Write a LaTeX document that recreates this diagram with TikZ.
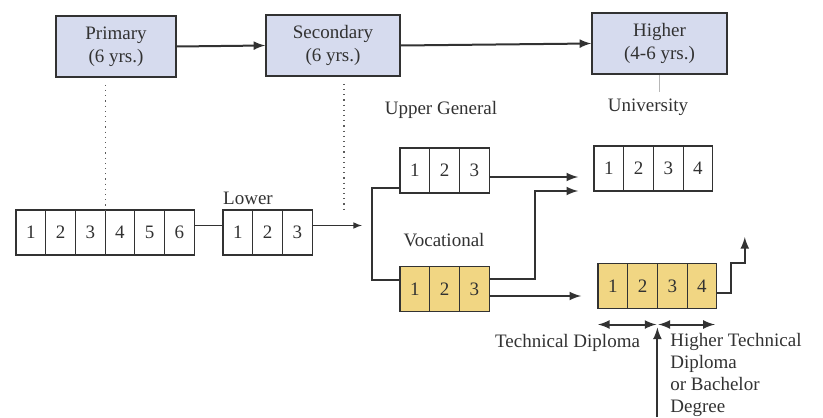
\documentclass[tikz,border=0pt]{standalone}
\usepackage{fontspec}
\setmainfont{Liberation Serif}
\usepackage{tikz}
\usetikzlibrary{positioning}
\usetikzlibrary{arrows}

\definecolor{stageBlue}{RGB}{214,219,238}
\definecolor{vocYellow}{RGB}{241,214,131}
\definecolor{inkGray}{RGB}{50,50,50}

\begin{document}
\begin{tikzpicture}[
  x=0.5pt, y=-0.5pt,
  font=\fontsize{9.5}{11.5}\selectfont,
  every node/.style={text=inkGray},
  stageBox/.style={draw=inkGray, line width=0.8pt, fill=stageBlue, rectangle,
    align=center, minimum width=#1, minimum height=30.5pt, inner sep=2pt},
  stageBox/.default=67pt,
  cellBox/.style={draw=inkGray, line width=0.6pt, rectangle, minimum width=14.85pt,
    minimum height=22.5pt, inner sep=0pt, outer sep=0pt},
  yearCell/.style={cellBox, fill=vocYellow},
  linkArrow/.style={draw=inkGray, line width=1pt, -latex},
  linkLine/.style={draw=inkGray, line width=1pt},
  spanArrow/.style={draw=inkGray, line width=1pt, latex-latex},
  thinLine/.style={draw=inkGray, line width=0.5pt},
  thinArrow/.style={draw=inkGray, line width=0.5pt, -latex},
  guideLine/.style={draw=inkGray!80, dotted, line width=0.6pt},
  faintLine/.style={draw=inkGray!35, line width=0.3pt},
]

\useasboundingbox (0,0) rectangle (823,417);

% --- stages ---
\node[stageBox=60pt] (primBox) at (116,46.5) {Primary\\(6 yrs.)};
\node[stageBox] (secBox) at (333,45.5) {Secondary\\(6 yrs.)};
\node[stageBox=67.5pt] (highBox) at (659.5,43.5) {Higher\\(4-6 yrs.)};

\draw[linkArrow] (primBox.east) -- (secBox.west);
\draw[linkArrow] (secBox.east) -- (highBox.west);

% --- year rows ---
\node[cellBox] (prim1) at (30.85,232.5) {1};
\foreach \i [count=\j] in {2,...,6}
  \node[cellBox, right=0pt of prim\j] (prim\i) {\i};

\node[cellBox] (low1) at (237.85,232.5) {1};
\foreach \i [count=\j] in {2,3}
  \node[cellBox, right=0pt of low\j] (low\i) {\i};

\node[cellBox] (upp1) at (414.85,170.5) {1};
\foreach \i [count=\j] in {2,3}
  \node[cellBox, right=0pt of upp\j] (upp\i) {\i};

\node[yearCell] (voc1) at (414.85,289) {1};
\foreach \i [count=\j] in {2,3}
  \node[yearCell, right=0pt of voc\j] (voc\i) {\i};

\node[cellBox] (uni1) at (608.85,168.5) {1};
\foreach \i [count=\j] in {2,3,4}
  \node[cellBox, right=0pt of uni\j] (uni\i) {\i};

\node[yearCell] (tech1) at (612.85,286) {1};
\foreach \i [count=\j] in {2,3,4}
  \node[yearCell, right=0pt of tech\j] (tech\i) {\i};

% --- labels ---
\node (lowLabel) at (248,198) {Lower};
\node (uppLabel) at (441,110) {Upper General};
\node (uniLabel) at (648,107) {University};
\node (vocLabel) at (444,240) {Vocational};
\node[anchor=east] (techLabel) at (647,343) {Technical Diploma};
\node[anchor=north west, align=left, inner sep=2pt,
  font=\fontsize{9.5}{11}\selectfont] (degLabel) at (666,329)
  {Higher Technical\\Diploma\\or Bachelor\\Degree};

% --- guides ---
\draw[guideLine, shorten <=3.5pt] (prim3.north east |- primBox.south) -- (prim3.north east);
\coordinate (secDrop) at (344,210);
\draw[guideLine, shorten <=3.5pt] (secDrop |- secBox.south) -- (secDrop);
\draw[faintLine] (highBox.south) -- (highBox.south |- uniLabel.north);

% --- flows ---
\draw[thinLine] ([yshift=3.5pt]prim6.east) -- ([yshift=3.5pt]low1.west);
\coordinate (branch) at (372,225.5);
\draw[thinArrow] ([yshift=3.5pt]low3.east) -- ([xshift=-5pt]branch);
\draw[linkLine] ([yshift=-8.75pt]upp1.west) -| (branch) |- ([yshift=4.5pt]voc1.west);

\draw[linkArrow] ([yshift=-3.25pt]upp3.east) -- ++(44.5pt,0);
\draw[linkArrow] ([yshift=5pt]voc3.east) -- ++(23pt,0) |- ++(21.5pt,44pt);
\draw[linkArrow] ([yshift=-3.5pt]voc3.east) -- ++(46pt,0);

\draw[linkArrow] ([yshift=-3.5pt]tech4.east) -- ++(7pt,0) |- ++(7pt,15pt) -- ++(0,13pt);

\draw[spanArrow] ([yshift=-8pt]tech1.south west) -- ([yshift=-8pt,xshift=-0.5pt]tech2.south east);
\draw[spanArrow] ([yshift=-8pt,xshift=0.5pt]tech3.south west) -- ([yshift=-8pt,xshift=-1pt]tech4.south east);

\coordinate (degFoot) at (658,417);
\draw[linkArrow] (tech2.south east |- degFoot) -- ([yshift=-9.5pt]tech2.south east);

\end{tikzpicture}
\end{document}
